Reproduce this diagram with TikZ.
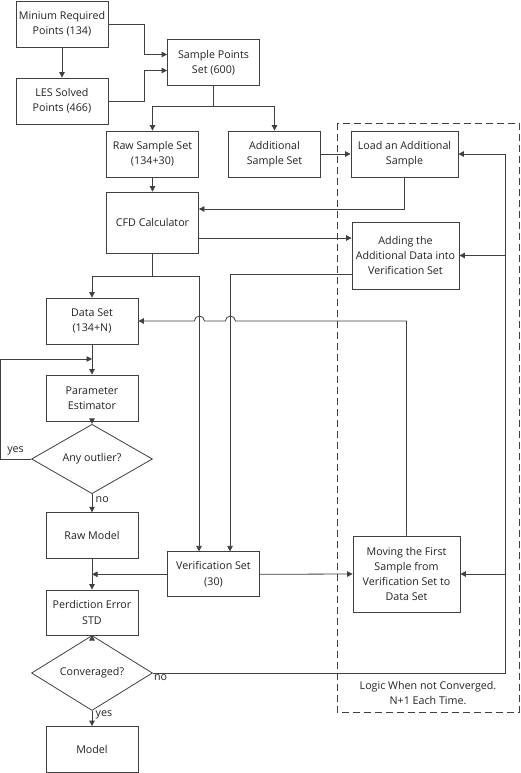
\documentclass[tikz,border=0pt]{standalone}
\usepackage{fontspec}
\setmainfont{Open Sans}
\usepackage{tikz}
\usetikzlibrary{shapes.geometric, arrows.meta, positioning}
\definecolor{linegray}{HTML}{404040}
\definecolor{textgray}{HTML}{222222}
\tikzset{
    process/.style={rectangle, minimum width=92pt, minimum height=46pt, inner sep=1pt, text centered, align=center, draw=linegray, line width=0.8pt},
    wideprocess/.style={process, minimum width=107pt},
    decision/.style={diamond, minimum width=121pt, minimum height=46pt, inner sep=0pt, text centered, draw=linegray, line width=0.8pt},
    arrow/.style={draw=linegray, line width=0.8pt, -{Triangle[length=5.5pt, width=5.5pt]}},
}

\begin{document}
\begin{tikzpicture}[x=1pt, y=1pt, font=\fontsize{10.7}{15.3}\selectfont, text=textgray]
  \useasboundingbox (0,0) rectangle (520,-773);
  % boxes
  \node[process] (mrp) at (62,-24) {Minium Required\\Points (134)};
  \node[process] (les) at (62,-101) {LES Solved\\Points (466)};
  \node[process] (sps) at (213.5,-62.5) {Sample Points\\Set (600)};
  \node[process] (raw) at (152.5,-154) {Raw Sample Set\\(134+30)};
  \node[process] (add) at (274.5,-154) {Additional\\Sample Set};
  \node[wideprocess] (load) at (404.5,-154) {Load an Additional\\Sample};
  \node[process, minimum height=61pt] (cfd) at (152.5,-222.5) {CFD Calculator};
  \node[wideprocess, minimum height=67pt] (adding) at (405.5,-255.5) {Adding the\\Additional Data into\\Verification Set};
  \node[process] (data) at (92,-321) {Data Set\\(134+N)};
  \node[process] (pe) at (92,-398) {Parameter\\Estimator};
  \node[decision] (outlier) at (92,-459) {Any outlier?};
  \node[process] (rawm) at (92,-535.7) {Raw Model};
  \node[process, minimum height=45pt] (verif) at (213.5,-574.3) {Verification Set\\(30)};
  \node[wideprocess, minimum height=76pt] (moving) at (406.5,-574) {Moving the First\\Sample from\\Verification Set to\\Data Set};
  \node[process, minimum height=45pt] (pes) at (92,-612.5) {Perdiction Error\\STD};
  \node[decision] (conv) at (92,-673) {Converaged?};
  \node[process] (model) at (92,-749.5) {Model};

  % loop region
  \draw[linegray, line width=0.8pt, dash pattern=on 7pt off 4pt] (337,-123) rectangle (519,-712);
  \node[align=center] (note) at (428,-693) {Logic When not Converged.\\N+1 Each Time.};

  % connectors
  \draw[arrow] (mrp.south) -- (les.north);
  \draw[arrow] (mrp.east) -- ++(36,0) |- ([yshift=8pt]sps.west);
  \draw[arrow] (les.east) -- ++(36,0) |- ([yshift=-8pt]sps.west);
  \draw[arrow] (sps.south) -- ++(0,-21) -| (raw.north);
  \draw[arrow] (sps.south) -- ++(0,-21) -| (add.north);
  \draw[arrow] (raw.south) -- (cfd.north);
  \draw[arrow] (add.east) -- (load.west);
  \draw[arrow] (load.south) |- ([yshift=13.5pt]cfd.east);
  \draw[arrow] ([yshift=-15.5pt]cfd.east) -- ([yshift=17.5pt]adding.west);
  \draw[arrow] ([yshift=-18.5pt]adding.west) -| ([xshift=16.5pt]verif.north);
  \draw[arrow] (cfd.south) -- ++(0,-23) -| (data.north);
  \draw[arrow] (cfd.south) -- ++(0,-23) -| ([xshift=-14.5pt]verif.north);
  \draw[arrow] (moving.north) |- ([xshift=97pt]data.east)
    arc[start angle=0, end angle=180, radius=5pt] -- ++(-21pt,0)
    arc[start angle=0, end angle=180, radius=5pt] -- (data.east);

  \coordinate (join) at (92,-359);
  \draw[arrow] (data.south) -- (pe.north);
  \draw[arrow] (outlier.west) -- node[above]{yes} ++(-31,0) |- (join);
  \draw[arrow] (pe.south) -- (outlier.north);
  \draw[arrow] (outlier.south) -- node[right, pos=0.33]{no} (rawm.north);
  \draw[arrow] (rawm.south) -- (pes.north);
  \draw[arrow] (verif.west) -- (verif.west -| rawm.south);
  \draw[arrow] (verif.east) -- (moving.west);
  \draw[arrow] (pes.south) -- (conv.north);
  \draw[arrow] (conv.south) -- node[right, pos=0.26]{yes} (model.north);

  \coordinate (trunk) at (505,-673);
  \draw[arrow] (conv.east) -- (trunk) |- (load.east);
  \draw[arrow] (trunk |- adding.east) -- (adding.east);
  \draw[arrow] (trunk |- moving.east) -- (moving.east);
  \node[below right, inner sep=1pt] (nolabel) at (conv.east) {no};
\end{tikzpicture}
\end{document}
